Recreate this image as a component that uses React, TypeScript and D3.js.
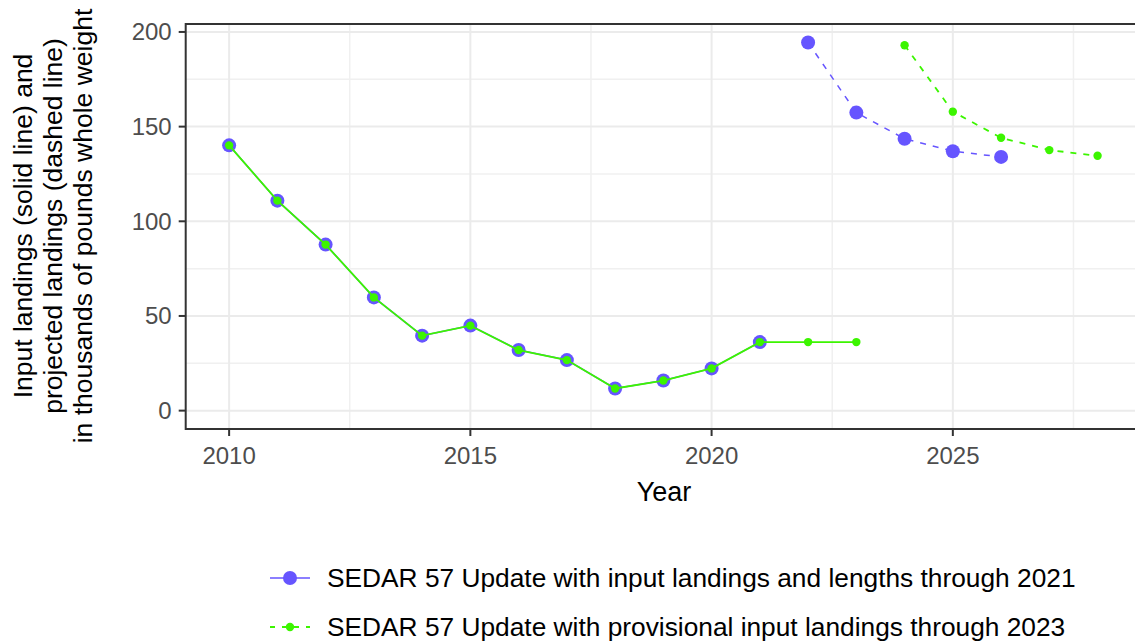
import React from "react";
import * as d3 from "d3";

const histYears = [2010, 2011, 2012, 2013, 2014, 2015, 2016, 2017, 2018, 2019, 2020, 2021];
const histValues = [140.1, 110.9, 87.7, 59.8, 39.6, 44.9, 32.0, 26.7, 11.7, 15.9, 22.3, 36.2];
const provYears = [2022, 2023];
const provValues = [36.2, 36.2];
const projYearsA = [2022, 2023, 2024, 2025, 2026];
const projValuesA = [194.4, 157.4, 143.6, 137.0, 134.0];
const projYearsB = [2024, 2025, 2026, 2027, 2028];
const projValuesB = [193.0, 157.9, 144.1, 137.6, 134.6];
const xTicks = [2010, 2015, 2020, 2025];
const xMinor = [2012.5, 2017.5, 2022.5, 2027.5];
const yTicks = [0, 50, 100, 150, 200];
const yMinor = [25, 75, 125, 175];
const seriesNames = [
  "SEDAR 57 Update with input landings and lengths through 2021",
  "SEDAR 57 Update with provisional input landings through 2023",
];
const yTitle = [
  "Input landings (solid line) and",
  "projected landings (dashed line)",
  "in thousands of pounds whole weight",
];

const W = 1135;
const H = 642;
const P = { left: 185.7, right: 1141, top: 24, bottom: 429 };
const PURPLE = "#6655FF";
const GREEN = "#3CF500";
const FONT = "'Liberation Sans', Arial, sans-serif";

export default function App() {
  const x = d3.scaleLinear().domain([2009.1, 2028.9]).range([P.left, P.right]);
  const y = d3.scaleLinear().domain([-9.7, 204.2]).range([P.bottom, P.top]);
  const line = d3
    .line<[number, number]>()
    .x((d) => x(d[0]))
    .y((d) => y(d[1]));
  const zip = (a: number[], b: number[]) => a.map((v, i) => [v, b[i]] as [number, number]);
  const histPts = zip(histYears, histValues);
  const greenSolid = [...histPts, ...zip(provYears, provValues)];
  const projA = zip(projYearsA, projValuesA);
  const projB = zip(projYearsB, projValuesB);

  return (
    <svg
      width={W}
      height={H}
      style={{ position: "absolute", left: 0, top: 0, background: "#fff" }}
      fontFamily={FONT}
    >
      <defs>
        <clipPath id="panel">
          <rect x={P.left} y={P.top} width={P.right - P.left} height={P.bottom - P.top} />
        </clipPath>
      </defs>
      <g clipPath="url(#panel)">
        {yMinor.map((v) => (
          <line key={"ym" + v} x1={P.left} x2={P.right} y1={y(v)} y2={y(v)} stroke="#F0F0F0" strokeWidth={1.5} />
        ))}
        {xMinor.map((v) => (
          <line key={"xm" + v} x1={x(v)} x2={x(v)} y1={P.top} y2={P.bottom} stroke="#F0F0F0" strokeWidth={1.5} />
        ))}
        {yTicks.map((v) => (
          <line key={"yM" + v} x1={P.left} x2={P.right} y1={y(v)} y2={y(v)} stroke="#EBEBEB" strokeWidth={2} />
        ))}
        {xTicks.map((v) => (
          <line key={"xM" + v} x1={x(v)} x2={x(v)} y1={P.top} y2={P.bottom} stroke="#EBEBEB" strokeWidth={2} />
        ))}
        {/* purple series */}
        <path d={line(histPts) || ""} fill="none" stroke={PURPLE} strokeWidth={1.5} />
        <path d={line(projA) || ""} fill="none" stroke={PURPLE} strokeWidth={1.5} strokeDasharray="6,7" />
        {[...histPts, ...projA].map((p, i) => (
          <circle key={"pa" + i} cx={x(p[0])} cy={y(p[1])} r={7} fill={PURPLE} />
        ))}
        {/* green series */}
        <path d={line(greenSolid) || ""} fill="none" stroke={GREEN} strokeWidth={1.8} />
        <path d={line(projB) || ""} fill="none" stroke={GREEN} strokeWidth={1.8} strokeDasharray="6,7" />
        {[...greenSolid, ...projB].map((p, i) => (
          <circle key={"pb" + i} cx={x(p[0])} cy={y(p[1])} r={4.2} fill={GREEN} />
        ))}
      </g>
      {/* panel border */}
      <rect
        x={P.left}
        y={P.top}
        width={P.right - P.left}
        height={P.bottom - P.top}
        fill="none"
        stroke="#333333"
        strokeWidth={2}
      />
      {/* y axis ticks */}
      {yTicks.map((v) => (
        <g key={"yt" + v}>
          <line x1={P.left - 7} x2={P.left} y1={y(v)} y2={y(v)} stroke="#333333" strokeWidth={2} />
          <text x={P.left - 14} y={y(v)} dy="0.35em" textAnchor="end" fontSize={24} fill="#4D4D4D">
            {v}
          </text>
        </g>
      ))}
      {xTicks.map((v) => (
        <g key={"xt" + v}>
          <line x1={x(v)} x2={x(v)} y1={P.bottom} y2={P.bottom + 7} stroke="#333333" strokeWidth={2} />
          <text x={x(v)} y={P.bottom + 35} textAnchor="middle" fontSize={24} fill="#4D4D4D">
            {v}
          </text>
        </g>
      ))}
      <text x={664} y={501} textAnchor="middle" fontSize={27} fill="#000">
        Year
      </text>
      {yTitle.map((t, i) => (
        <text
          key={"ytl" + i}
          transform={`translate(${32 + i * 30},226) rotate(-90)`}
          textAnchor="middle"
          fontSize={26.5}
          fill="#000"
        >
          {t}
        </text>
      ))}
      {/* legend */}
      <g>
        <line x1={270} x2={310} y1={578} y2={578} stroke={PURPLE} strokeWidth={1.5} />
        <circle cx={290} cy={578} r={7} fill={PURPLE} />
        <text x={327} y={578} dy="0.35em" fontSize={26.3} fill="#000">
          {seriesNames[0]}
        </text>
        <line x1={270} x2={310} y1={627} y2={627} stroke={GREEN} strokeWidth={1.8} strokeDasharray="5,7" />
        <circle cx={290} cy={627} r={4.2} fill={GREEN} />
        <text x={327} y={627} dy="0.35em" fontSize={26.3} fill="#000">
          {seriesNames[1]}
        </text>
      </g>
    </svg>
  );
}
